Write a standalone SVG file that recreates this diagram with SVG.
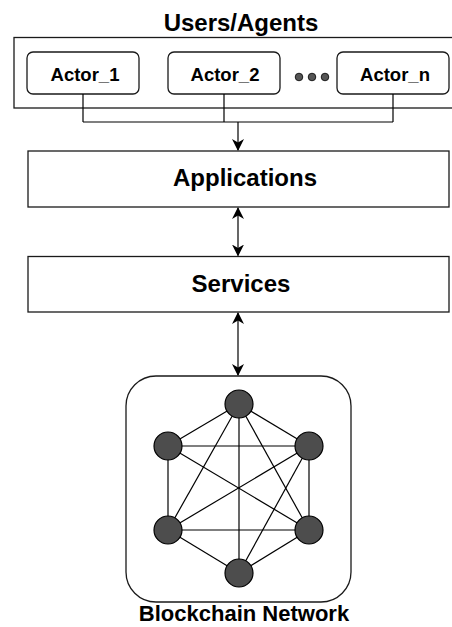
<svg xmlns="http://www.w3.org/2000/svg" width="452" height="627" viewBox="0 0 452 627">
  <style>
    .box { fill: #ffffff; stroke: #1a1a1a; stroke-width: 1.3; }
    .wire { fill: none; stroke: #000000; stroke-width: 1.2; }
    .edge { stroke: #000000; stroke-width: 1.2; }
    .peer { fill: #4d4d4d; stroke: #000000; stroke-width: 1.2; }
    .t { font-family: "Liberation Sans", Arial, sans-serif; font-weight: bold; fill: #000000; text-anchor: middle; }
    .big { font-size: 24px; }
    .net { font-size: 22px; }
    .small { font-size: 18.5px; }
  </style>
  <defs>
    <marker id="arrow" viewBox="0 0 12 12" refX="11" refY="6" markerWidth="12" markerHeight="12" markerUnits="userSpaceOnUse" orient="auto-start-reverse">
      <path d="M0,0 L12,6 L0,12 L3.5,6 z" fill="#000000"/>
    </marker>
  </defs>

  <!-- Users / agents container -->
  <g id="users">
    <text class="t big" x="241" y="31">Users/Agents</text>
    <rect class="box" x="14" y="37.5" width="445" height="70.5"/>
  </g>

  <g id="actor1">
    <rect class="box" x="27" y="52" width="112" height="42" rx="6"/>
    <text class="t small" x="85" y="81">Actor_1</text>
  </g>
  <g id="actor2">
    <rect class="box" x="168" y="52" width="112" height="42" rx="6"/>
    <text class="t small" x="225" y="81">Actor_2</text>
  </g>
  <g id="ellipsis">
    <circle cx="299" cy="77" r="3.8" fill="#555555" stroke="#000000" stroke-width="0.8"/>
    <circle cx="312" cy="77" r="3.8" fill="#555555" stroke="#000000" stroke-width="0.8"/>
    <circle cx="325" cy="77" r="3.8" fill="#555555" stroke="#000000" stroke-width="0.8"/>
  </g>
  <g id="actorN">
    <rect class="box" x="337" y="52" width="112" height="42" rx="6"/>
    <text class="t small" x="395" y="81">Actor_n</text>
  </g>

  <g id="applications">
    <rect class="box" x="28" y="151" width="421" height="56"/>
    <text class="t big" x="245" y="186">Applications</text>
  </g>

  <g id="services">
    <rect class="box" x="28" y="256.5" width="421" height="55.5"/>
    <text class="t big" x="241" y="292">Services</text>
  </g>

  <g id="blockchain">
    <rect class="box" x="126" y="376" width="225" height="226" rx="30"/>
    <g id="mesh">
      <line class="edge" x1="239" y1="404" x2="168" y2="446"/>
      <line class="edge" x1="239" y1="404" x2="309" y2="446"/>
      <line class="edge" x1="239" y1="404" x2="168" y2="530"/>
      <line class="edge" x1="239" y1="404" x2="309" y2="530"/>
      <line class="edge" x1="239" y1="404" x2="239" y2="573"/>
      <line class="edge" x1="168" y1="446" x2="309" y2="446"/>
      <line class="edge" x1="168" y1="446" x2="168" y2="530"/>
      <line class="edge" x1="168" y1="446" x2="309" y2="530"/>
      <line class="edge" x1="309" y1="446" x2="168" y2="530"/>
      <line class="edge" x1="309" y1="446" x2="309" y2="530"/>
      <line class="edge" x1="309" y1="446" x2="239" y2="573"/>
      <line class="edge" x1="168" y1="530" x2="309" y2="530"/>
      <line class="edge" x1="168" y1="530" x2="239" y2="573"/>
      <line class="edge" x1="309" y1="530" x2="239" y2="573"/>
    </g>
    <circle class="peer" cx="239" cy="404" r="14"/>
    <circle class="peer" cx="168" cy="446" r="14"/>
    <circle class="peer" cx="309" cy="446" r="14"/>
    <circle class="peer" cx="168" cy="530" r="14"/>
    <circle class="peer" cx="309" cy="530" r="14"/>
    <circle class="peer" cx="239" cy="573" r="14"/>
    <text class="t net" x="244" y="621">Blockchain Network</text>
  </g>

  <!-- connectors -->
  <g id="connectors">
    <path class="wire" d="M83,94 V122 M224,94 V122 M393,94 V122 M83,122 H393"/>
    <path class="wire" d="M238,122 V150" marker-end="url(#arrow)"/>
    <path class="wire" d="M238,208 V255.5" marker-start="url(#arrow)" marker-end="url(#arrow)"/>
    <path class="wire" d="M238,313 V375" marker-start="url(#arrow)" marker-end="url(#arrow)"/>
  </g>
</svg>
